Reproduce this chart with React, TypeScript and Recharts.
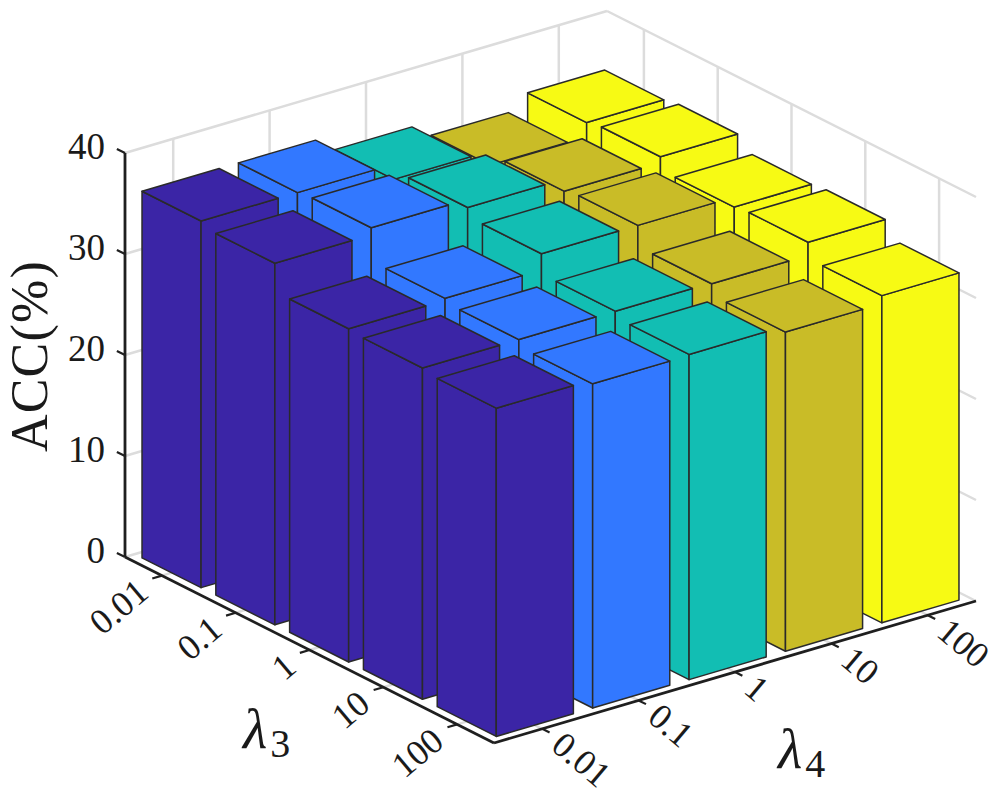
import { ScatterChart, Scatter, XAxis, YAxis } from "recharts";

const lambda3Labels = ["0.01", "0.1", "1", "10", "100"];
const lambda4Labels = ["0.01", "0.1", "1", "10", "100"];
const zTicks = [0, 10, 20, 30, 40];
const barColors = ["#3b25a6", "#3278ff", "#12beb3", "#c9bc27", "#f7fa14"];

// ACC per lambda4 column, one array per lambda3 value
const acc001 = [36.3, 36.3, 34.8, 33.4, 34.8];
const acc01 = [35.8, 36.5, 35.7, 34.5, 35.1];
const acc1 = [33.0, 33.2, 34.8, 34.8, 33.8];
const acc10 = [32.8, 32.8, 32.8, 32.7, 34.0];
const acc100 = [32.5, 32.1, 32.2, 31.6, 32.4];
const accRows = [acc001, acc01, acc1, acc10, acc100];

const WIDTH = 1004;
const HEIGHT = 796;

// oblique view of the 3D box, in chart units
const ORIGIN = { u: 125, v: 557 };
const S_STEP = { u: 73.8, v: 37.2 };
const T_STEP = { u: 96.4, v: -28.4 };
const Z_STEP = 10.1;
const HALF_BAR = 0.4;

function project(s: number, t: number, z: number) {
  return {
    u: ORIGIN.u + s * S_STEP.u + t * T_STEP.u,
    v: ORIGIN.v + s * S_STEP.v + t * T_STEP.v - z * Z_STEP,
  };
}

const SERIF = "'Liberation Serif', 'Times New Roman', serif";
const GRID = "#dcdcdc";
const AXIS = "#1f1f1f";

type Seg = { from: number[]; to: number[]; stroke: string; width: number };

const segments: Seg[] = [];
const addGrid = (from: number[], to: number[]) =>
  segments.push({ from, to, stroke: GRID, width: 2.5 });
const addAxis = (from: number[], to: number[], width = 2.8) =>
  segments.push({ from, to, stroke: AXIS, width });

// walls and floor
zTicks.forEach((z) => {
  addGrid([0, 0, z], [0, 5, z]);
  addGrid([0, 5, z], [5, 5, z]);
});
[0.5, 1.5, 2.5, 3.5, 4.5].forEach((p) => {
  addGrid([0, p, 0], [0, p, 40]);
  addGrid([p, 5, 0], [p, 5, 40]);
  addGrid([0, p, 0], [5, p, 0]);
  addGrid([p, 0, 0], [p, 5, 0]);
});

// axis lines and ticks
addAxis([0, 0, 0], [0, 0, 40]);
addAxis([0, 0, 0], [5, 0, 0]);
addAxis([5, 0, 0], [5, 5, 0]);
zTicks.forEach((z) => addAxis([0, 0, z], [-0.11, 0, z], 2.2));
[0.5, 1.5, 2.5, 3.5, 4.5].forEach((p) => {
  addAxis([p, 0, 0], [p, -0.1, 0], 2.2);
  addAxis([5, p, 0], [5.1, p, 0], 2.2);
});

// painter's order: back to front
const bars = accRows.flatMap((row, i) =>
  row
    .map((value, j) => ({ ...project(i + 0.5, j + 0.5, 0), i, j, value }))
    .reverse()
);

const zLabels = zTicks.map((z) => ({ ...project(0, 0, z), label: String(z) }));
const s3Labels = lambda3Labels.map((label, i) => ({
  ...project(i + 0.5, 0, 0),
  label,
}));
const t4Labels = lambda4Labels.map((label, j) => ({
  ...project(5, j + 0.5, 0),
  label,
}));

function Cuboid(props: any) {
  const { cx, cy, payload } = props;
  const { value, j } = payload;
  const pt = (ds: number, dt: number, z: number) => {
    const x = cx + ds * S_STEP.u + dt * T_STEP.u;
    const y = cy + ds * S_STEP.v + dt * T_STEP.v - z * Z_STEP;
    return `${x},${y}`;
  };
  const h = HALF_BAR;
  const faceStyle = {
    fill: barColors[j],
    stroke: "#2a2a2a",
    strokeWidth: 1.5,
    strokeLinejoin: "round" as const,
  };
  return (
    <g>
      <polygon
        {...faceStyle}
        points={[pt(-h, -h, 0), pt(h, -h, 0), pt(h, -h, value), pt(-h, -h, value)].join(" ")}
      />
      <polygon
        {...faceStyle}
        points={[pt(h, -h, 0), pt(h, h, 0), pt(h, h, value), pt(h, -h, value)].join(" ")}
      />
      <polygon
        {...faceStyle}
        points={[pt(-h, -h, value), pt(h, -h, value), pt(h, h, value), pt(-h, h, value)].join(" ")}
      />
    </g>
  );
}

const ZLabel = (props: any) => (
  <text
    x={props.cx - 20}
    y={props.cy - 7}
    textAnchor="end"
    dominantBaseline="central"
    fontFamily={SERIF}
    fontSize={37}
    fill="#1a1a1a"
  >
    {props.payload.label}
  </text>
);

const RotatedLabel = (dx: number, dy: number, angle: number, anchor: string) => (props: any) => {
  const x = props.cx + dx;
  const y = props.cy + dy;
  return (
    <text
      x={x}
      y={y}
      textAnchor={anchor}
      dominantBaseline="central"
      transform={`rotate(${angle} ${x} ${y})`}
      fontFamily={SERIF}
      fontSize={36}
      fill="#1a1a1a"
    >
      {props.payload.label}
    </text>
  );
};

const Title = (props: any) => {
  const { cx, cy, payload } = props;
  if (payload.rotate) {
    return (
      <text
        x={cx}
        y={cy}
        textAnchor="middle"
        transform={`rotate(-90 ${cx} ${cy})`}
        fontFamily={SERIF}
        fontSize={52}
        letterSpacing={1.2}
        fill="#1a1a1a"
      >
        {payload.text}
      </text>
    );
  }
  return (
    <text x={cx} y={cy} fontFamily={SERIF} fill="#1a1a1a">
      <tspan fontStyle="italic" fontSize={56}>
        λ
      </tspan>
      <tspan fontSize={40} dx={3} dy={9}>
        {payload.sub}
      </tspan>
    </text>
  );
};

const titles = [
  { u: 46.5, v: 356, text: "ACC(%)", rotate: true },
  { u: 243, v: 748, sub: "3" },
  { u: 778, v: 768, sub: "4" },
];

const noMark = () => <g />;

export default function App() {
  return (
    <div style={{ position: "absolute", left: 0, top: 0, width: WIDTH, height: HEIGHT }}>
      <ScatterChart
        width={WIDTH}
        height={HEIGHT}
        margin={{ top: 0, right: 0, bottom: 0, left: 0 }}
      >
        <XAxis type="number" dataKey="u" domain={[0, WIDTH]} hide />
        <YAxis type="number" dataKey="v" domain={[0, HEIGHT]} reversed hide />
        {segments.map((seg, k) => (
          <Scatter
            key={k}
            data={[
              project(seg.from[0], seg.from[1], seg.from[2]),
              project(seg.to[0], seg.to[1], seg.to[2]),
            ]}
            line={{ stroke: seg.stroke, strokeWidth: seg.width }}
            shape={noMark}
            isAnimationActive={false}
          />
        ))}
        <Scatter data={bars} shape={Cuboid} isAnimationActive={false} />
        <Scatter data={zLabels} shape={ZLabel} isAnimationActive={false} />
        <Scatter
          data={s3Labels}
          shape={RotatedLabel(-19, 11, -40, "end")}
          isAnimationActive={false}
        />
        <Scatter
          data={t4Labels}
          shape={RotatedLabel(15, 10.5, 40, "start")}
          isAnimationActive={false}
        />
        <Scatter data={titles} shape={Title} isAnimationActive={false} />
      </ScatterChart>
    </div>
  );
}
